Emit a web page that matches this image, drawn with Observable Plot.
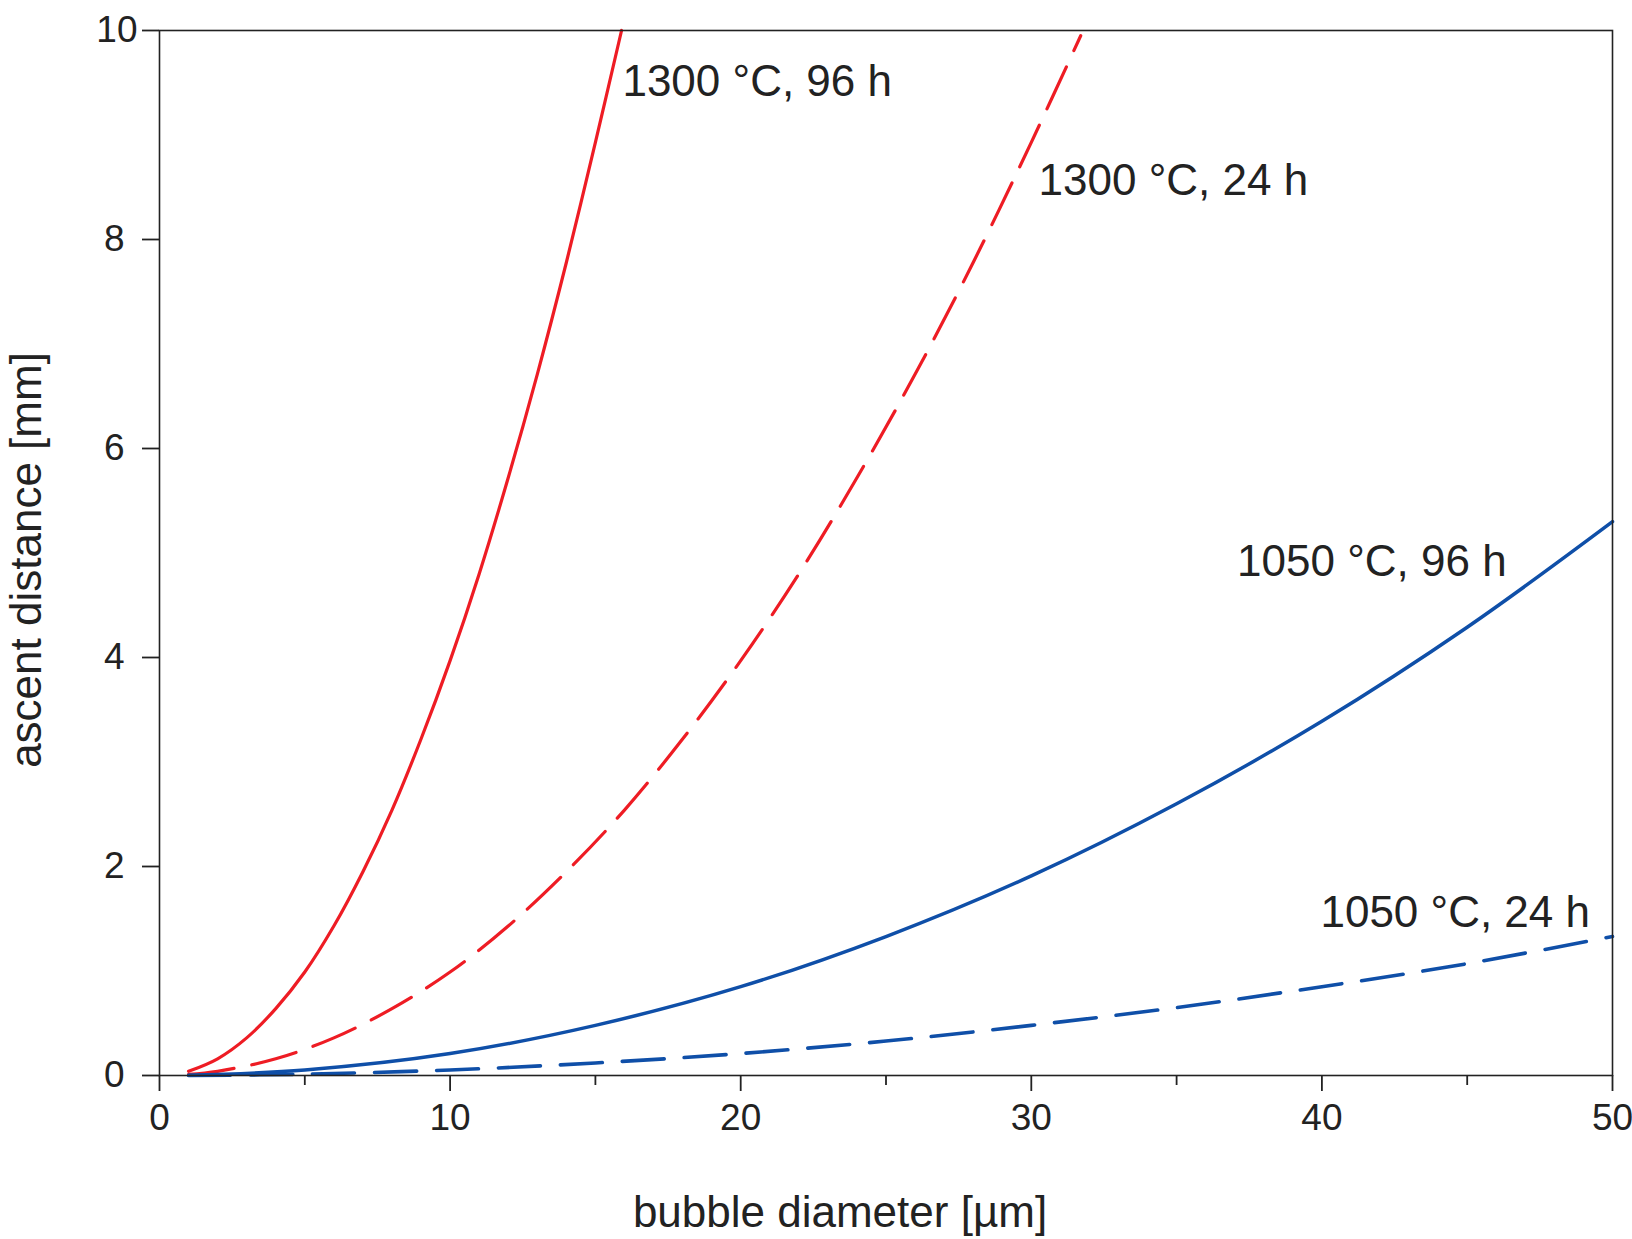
<!DOCTYPE html>
<html>
<head>
<meta charset="utf-8">
<script src="https://cdn.jsdelivr.net/npm/d3@7"></script>
<script src="https://cdn.jsdelivr.net/npm/@observablehq/plot@0.6"></script>
<style>
  html, body { margin: 0; padding: 0; background: #fff; }
  #chart svg { display: block; }
</style>
</head>
<body>
<div id="chart"></div>
<script>
// Data
const d1300_96 = [1, 2, 3, 4, 5, 6, 7, 8, 9, 10, 11, 12, 13, 14, 15, 15.9];
const y1300_96 = [0.04, 0.16, 0.36, 0.64, 0.99, 1.43, 1.95, 2.54, 3.22, 3.97, 4.80, 5.72, 6.71, 7.78, 8.93, 10.0];

const d1300_24 = [1, 2, 4, 6, 8, 10, 12, 14, 16, 18, 20, 22, 24, 26, 28, 30, 31.7];
const y1300_24 = [0.01, 0.04, 0.16, 0.36, 0.64, 0.99, 1.43, 1.95, 2.54, 3.22, 3.97, 4.80, 5.72, 6.71, 7.78, 8.93, 9.95];

const d1050_96 = [1, 5, 10, 15, 20, 25, 30, 35, 40, 45, 50];
const y1050_96 = [0.002, 0.053, 0.21, 0.48, 0.85, 1.33, 1.91, 2.60, 3.39, 4.29, 5.30];

const d1050_24 = [1, 5, 10, 15, 20, 25, 30, 35, 40, 45, 50];
const y1050_24 = [0.0005, 0.013, 0.053, 0.12, 0.21, 0.33, 0.48, 0.65, 0.85, 1.07, 1.33];

const labelText = ["1300 °C, 96 h", "1300 °C, 24 h", "1050 °C, 96 h", "1050 °C, 24 h"];
const labelX = [15.93, 30.25, 37.08, 39.95];
const labelY = [9.51, 8.56, 4.91, 1.56];

const xMajorTicks = [0, 10, 20, 30, 40, 50];
const xMinorTicks = [5, 15, 25, 35, 45];
const yTicks = [0, 2, 4, 6, 8];
const yTopTick = [10];

const RED = "#ee1c24";
const BLUE = "#0f4fa8";
const FONT = "'Liberation Sans', Arial, Helvetica, sans-serif";

const toRows = (xs, ys) => xs.map((x, i) => ({x, y: ys[i]}));
const labels = labelText.map((t, i) => ({t, x: labelX[i], y: labelY[i]}));

const chart = Plot.plot({
  width: 1632,
  height: 1239,
  marginLeft: 159,
  marginRight: 20,
  marginTop: 30,
  marginBottom: 164,
  style: {fontFamily: FONT, background: "#fff", color: "#222"},
  x: {domain: [0, 50]},
  y: {domain: [0, 10]},
  marks: [
    Plot.line(toRows(d1300_96, y1300_96), {x: "x", y: "y", stroke: RED, strokeWidth: 3.2, curve: "catmull-rom"}),
    Plot.line(toRows(d1300_24, y1300_24), {x: "x", y: "y", stroke: RED, strokeWidth: 3.2, strokeDasharray: "46,18", curve: "catmull-rom"}),
    Plot.line(toRows(d1050_96, y1050_96), {x: "x", y: "y", stroke: BLUE, strokeWidth: 3.5, curve: "catmull-rom"}),
    Plot.line(toRows(d1050_24, y1050_24), {x: "x", y: "y", stroke: BLUE, strokeWidth: 3.6, strokeDasharray: "42,20", curve: "catmull-rom"}),
    Plot.frame({stroke: "#222", strokeWidth: 1.6}),
    Plot.axisX({ticks: xMajorTicks, tickSize: 16, tickPadding: 12, fontSize: 37, stroke: "#222", strokeWidth: 1.8, label: null, tickFormat: d => String(d)}),
    Plot.axisX({ticks: xMinorTicks, tickSize: 10, tickFormat: () => "", stroke: "#222", strokeWidth: 1.8, label: null}),
    Plot.axisY({ticks: yTicks, tickSize: 17, tickPadding: 18, fontSize: 37, stroke: "#222", strokeWidth: 1.8, label: null, tickFormat: d => String(d)}),
    Plot.axisY({ticks: yTopTick, tickSize: 17, tickPadding: 5, fontSize: 37, stroke: "#222", strokeWidth: 1.8, label: null, tickFormat: d => String(d)}),
    Plot.text(labels, {x: "x", y: "y", text: "t", textAnchor: "start", fontSize: 44, fill: "#222"}),
    Plot.text(["bubble diameter [µm]"], {frameAnchor: "bottom", dx: -46, dy: 137, fontSize: 44, fill: "#222", lineAnchor: "middle", textAnchor: "middle"}),
    Plot.text(["ascent distance [mm]"], {frameAnchor: "left", dx: -133, dy: 7, rotate: -90, fontSize: 44, fill: "#222", lineAnchor: "middle", textAnchor: "middle"})
  ]
});
document.getElementById("chart").appendChild(chart);
</script>
</body>
</html>
